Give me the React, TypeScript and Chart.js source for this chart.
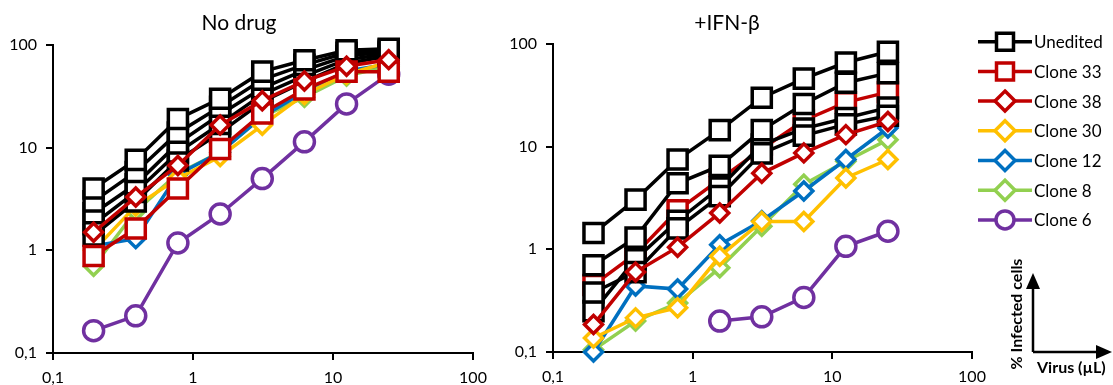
import React, { useEffect, useRef } from 'react';
import { Chart, registerables } from 'chart.js';

Chart.register(...registerables);

// ---------- data ----------
const virus = [0.195, 0.39, 0.78, 1.5625, 3.125, 6.25, 12.5, 25];
const axisTicks = [0.1, 1, 10, 100];
const legendLabels = ['Unedited', 'Clone 33', 'Clone 38', 'Clone 30', 'Clone 12', 'Clone 8', 'Clone 6'];

// No drug
const noDrugUnedited1 = [4.0, 7.6, 19, 30, 55, 71, 89, 92];
const noDrugUnedited2 = [3.0, 5.8, 14, 25, 46, 64, 84, 90];
const noDrugUnedited3 = [2.3, 4.4, 11, 21, 38, 57, 78, 86];
const noDrugUnedited4 = [1.8, 3.7, 9.0, 17, 33, 50, 72, 82];
const noDrugUnedited5 = [1.4, 3.0, 7.5, 14, 28, 44, 66, 78];
const noDrugClone33 = [0.88, 1.63, 4.0, 9.7, 21.6, 37, 55, 55];
const noDrugClone38 = [1.5, 3.3, 6.7, 16.6, 28.7, 44.6, 62, 72];
const noDrugClone30 = [1.0, 2.7, 5.0, 8.2, 16.5, 33, 52, 68];
const noDrugClone12 = [1.1, 1.3, 5.5, 9.0, 20, 35, 56, 65];
const noDrugClone8 = [0.7, 2.4, 5.6, 9.0, 20, 31, 50, 62];
const noDrugClone6 = [0.165, 0.23, 1.18, 2.26, 5.0, 11.4, 26.7, 52];

// +IFN-beta
const ifnUnedited1 = [1.44, 3.05, 7.5, 14.5, 30, 46, 66, 84];
const ifnUnedited2 = [0.7, 1.3, 4.4, 6.5, 14.5, 26, 42, 52];
const ifnUnedited3 = [0.38, 0.6, 1.6, 3.3, 8.6, 12.8, 16.5, 20];
const ifnUnedited4 = [0.25, 0.8, 1.9, 4.0, 10.5, 15, 19, 24];
const ifnClone33 = [0.45, 0.9, 2.4, 4.8, 9.5, 18, 27, 34];
const ifnClone38 = [0.185, 0.6, 1.05, 2.26, 5.5, 8.7, 13.1, 17.6];
const ifnClone30 = [0.137, 0.215, 0.27, 0.855, 1.87, 1.87, 4.95, 7.5];
const ifnClone12 = [0.1, 0.44, 0.41, 1.11, 1.9, 3.7, 7.5, 15.2];
const ifnClone8 = [0.105, 0.2, 0.3, 0.66, 1.68, 4.3, 7.2, 11.7];
const ifnClone6 = [null, null, null, 0.2, 0.22, 0.34, 1.07, 1.5];

// ---------- styles ----------
type Shape = 'rect' | 'rectRot' | 'circle';
const STYLES: Record<string, { color: string; shape: Shape }> = {
  'Unedited': { color: '#000000', shape: 'rect' },
  'Clone 33': { color: '#C00000', shape: 'rect' },
  'Clone 38': { color: '#C00000', shape: 'rectRot' },
  'Clone 30': { color: '#FFC000', shape: 'rectRot' },
  'Clone 12': { color: '#0070C0', shape: 'rectRot' },
  'Clone 8': { color: '#92D050', shape: 'rectRot' },
  'Clone 6': { color: '#7030A0', shape: 'circle' },
};
const CHART_RADIUS: Record<Shape, number> = { rect: 13.5, rectRot: 9, circle: 10 };
const LEGEND_SIZE: Record<Shape, number> = { rect: 8.5, rectRot: 10, circle: 9 };
const STROKE = 3.5;

function ds(label: string, values: (number | null)[], order: number) {
  const s = STYLES[label];
  const r = CHART_RADIUS[s.shape];
  return {
    label,
    data: virus.map((x, i) => ({ x, y: values[i] })),
    borderColor: s.color,
    backgroundColor: '#ffffff',
    borderWidth: STROKE,
    pointStyle: s.shape,
    pointRadius: r,
    pointHoverRadius: r,
    pointBorderWidth: STROKE,
    pointBackgroundColor: '#ffffff',
    pointBorderColor: s.color,
    tension: 0,
    spanGaps: false,
    clip: false,
    order,
  };
}

function axis(position: 'bottom' | 'left', size: number) {
  return {
    type: 'logarithmic',
    position,
    min: 0.1,
    max: 100,
    afterBuildTicks: (s: any) => {
      s.ticks = axisTicks.map((v) => ({ value: v }));
    },
    afterFit: (s: any) => {
      if (position === 'left') s.width = size;
      else s.height = size;
    },
    ticks: {
      callback: (v: any) => String(v).replace('.', ','),
      font: { family: 'Lato', size: 16 },
      color: '#000000',
      padding: position === 'left' ? 9 : 8,
      autoSkip: false,
      maxRotation: 0,
    },
    grid: {
      display: true,
      drawOnChartArea: false,
      drawTicks: true,
      tickLength: 7,
      tickWidth: 2,
      tickColor: '#000000',
      color: '#000000',
      lineWidth: 2,
    },
    border: { display: true, color: '#000000', width: 2 },
  };
}

function drawMarker(ctx: CanvasRenderingContext2D, shape: Shape, x: number, y: number, r: number, color: string) {
  ctx.beginPath();
  if (shape === 'rect') {
    ctx.rect(x - r, y - r, 2 * r, 2 * r);
  } else if (shape === 'rectRot') {
    ctx.moveTo(x, y - r);
    ctx.lineTo(x + r, y);
    ctx.lineTo(x, y + r);
    ctx.lineTo(x - r, y);
    ctx.closePath();
  } else {
    ctx.arc(x, y, r, 0, Math.PI * 2);
  }
  ctx.fillStyle = '#ffffff';
  ctx.fill();
  ctx.strokeStyle = color;
  ctx.lineWidth = STROKE;
  ctx.stroke();
}

const sidePlugin = {
  id: 'sideLegend',
  afterDraw(chart: any) {
    const ctx: CanvasRenderingContext2D = chart.ctx;
    ctx.save();
    const top = 41.7;
    const step = 29.7;
    legendLabels.forEach((label, i) => {
      const s = STYLES[label];
      const y = top + i * step;
      ctx.beginPath();
      ctx.moveTo(498, y);
      ctx.lineTo(552, y);
      ctx.strokeStyle = s.color;
      ctx.lineWidth = STROKE;
      ctx.stroke();
      drawMarker(ctx, s.shape, 525, y, LEGEND_SIZE[s.shape], s.color);
      ctx.fillStyle = '#000000';
      ctx.font = '17px Lato';
      ctx.textAlign = 'left';
      ctx.textBaseline = 'middle';
      ctx.fillText(label, 554, y + 1);
    });

    // axis orientation diagram
    ctx.strokeStyle = '#000000';
    ctx.fillStyle = '#000000';
    ctx.lineWidth = 2.5;
    ctx.beginPath();
    ctx.moveTo(553, 352);
    ctx.lineTo(553, 286);
    ctx.moveTo(553, 352);
    ctx.lineTo(620, 352);
    ctx.stroke();
    ctx.beginPath();
    ctx.moveTo(553, 273);
    ctx.lineTo(560, 289);
    ctx.lineTo(546, 289);
    ctx.closePath();
    ctx.fill();
    ctx.beginPath();
    ctx.moveTo(632, 352);
    ctx.lineTo(616, 345);
    ctx.lineTo(616, 359);
    ctx.closePath();
    ctx.fill();

    ctx.font = 'bold 16px Lato';
    ctx.textBaseline = 'middle';
    ctx.textAlign = 'left';
    ctx.fillText('Virus (µL)', 557, 368);
    ctx.translate(537, 314);
    ctx.rotate(-Math.PI / 2);
    ctx.textAlign = 'center';
    ctx.fillText('% Infected cells', 0, 0);
    ctx.restore();
  },
};

function LogChart(props: {
  datasets: any[];
  width: number;
  left: number;
  yWidth: number;
  padRight: number;
  padTop: number;
  xHeight: number;
  extra?: any[];
}) {
  const ref = useRef<HTMLCanvasElement | null>(null);
  useEffect(() => {
    if (!ref.current) return;
    const chart = new Chart(ref.current, {
      type: 'line',
      data: { datasets: props.datasets },
      options: {
        animation: false,
        responsive: false,
        maintainAspectRatio: false,
        devicePixelRatio: 1,
        layout: { padding: { left: 0, right: props.padRight, top: props.padTop, bottom: 0 } },
        plugins: { legend: { display: false }, tooltip: { enabled: false }, title: { display: false } },
        scales: {
          x: axis('bottom', props.xHeight) as any,
          y: axis('left', props.yWidth) as any,
        },
      } as any,
      plugins: props.extra || [],
    });
    return () => chart.destroy();
  }, []);
  return (
    <canvas
      ref={ref}
      width={props.width}
      height={385}
      style={{ position: 'absolute', left: props.left, top: 0, width: props.width, height: 385, display: 'block' }}
    />
  );
}

const titleStyle: React.CSSProperties = {
  position: 'absolute',
  top: 9,
  width: 200,
  textAlign: 'center',
  fontFamily: 'Lato, sans-serif',
  fontSize: 21,
  lineHeight: '25px',
  color: '#000',
  whiteSpace: 'nowrap',
};

export default function App() {
  const leftSets = [
    ds('Clone 38', noDrugClone38, 0),
    ds('Clone 33', noDrugClone33, 1),
    ds('Unedited', noDrugUnedited1, 2),
    ds('Unedited', noDrugUnedited2, 2),
    ds('Unedited', noDrugUnedited3, 2),
    ds('Unedited', noDrugUnedited4, 2),
    ds('Unedited', noDrugUnedited5, 2),
    ds('Clone 6', noDrugClone6, 3),
    ds('Clone 30', noDrugClone30, 4),
    ds('Clone 12', noDrugClone12, 5),
    ds('Clone 8', noDrugClone8, 6),
  ];
  const rightSets = [
    ds('Clone 38', ifnClone38, 0),
    ds('Unedited', ifnUnedited1, 1),
    ds('Unedited', ifnUnedited2, 1),
    ds('Unedited', ifnUnedited3, 1),
    ds('Unedited', ifnUnedited4, 1),
    ds('Clone 33', ifnClone33, 2),
    ds('Clone 30', ifnClone30, 3),
    ds('Clone 12', ifnClone12, 4),
    ds('Clone 8', ifnClone8, 5),
    ds('Clone 6', ifnClone6, 6),
  ];
  return (
    <div style={{ position: 'fixed', left: 0, top: 0, width: 1113, height: 385, background: '#fff', overflow: 'hidden' }}>
      <LogChart datasets={leftSets} width={500} left={0} yWidth={53} padRight={27} padTop={45} xHeight={32} />
      <LogChart datasets={rightSets} width={633} left={480} yWidth={73} padRight={141} padTop={44} xHeight={33} extra={[sidePlugin]} />
      <div style={{ ...titleStyle, left: 239 - 100 }}>No drug</div>
      <div style={{ ...titleStyle, left: 727 - 100 }}>+IFN-β</div>
    </div>
  );
}
